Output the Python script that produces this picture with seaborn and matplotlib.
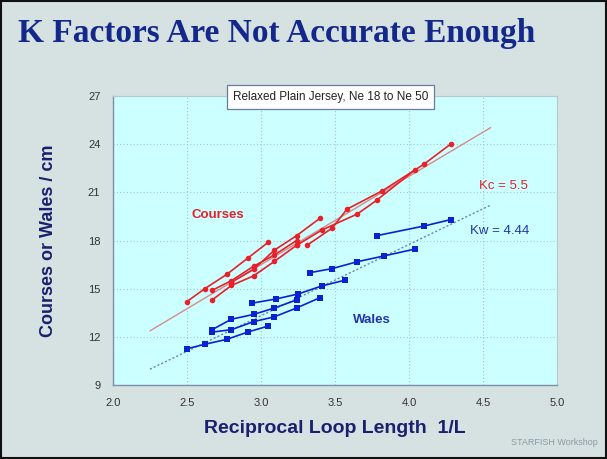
import numpy as np
import pandas as pd
import matplotlib
matplotlib.use("Agg")
import matplotlib.pyplot as plt
import seaborn as sns

# reciprocal loop length (1/L) and courses per cm, one list per yarn
course_x = [
    [2.50, 2.62, 2.77, 2.91, 3.05],
    [2.67, 2.80, 2.95, 3.09, 3.24],
    [2.67, 2.80, 2.95, 3.09, 3.24],
    [2.80, 2.95, 3.09, 3.24, 3.40],
    [3.24, 3.41, 3.65, 3.78, 4.04],
    [3.31, 3.48, 3.58, 3.82, 4.10, 4.28],
]
course_y = [
    [14.2, 15.0, 15.9, 16.9, 17.9],
    [14.3, 15.2, 15.8, 16.7, 17.7],
    [14.9, 15.5, 16.4, 17.1, 18.0],
    [15.4, 16.2, 17.4, 18.3, 19.4],
    [17.7, 18.65, 19.65, 20.5, 22.4],
    [17.7, 18.77, 19.95, 21.1, 22.75, 24.0],
]

# wales per cm
wale_x = [
    [2.50, 2.62, 2.77, 2.91, 3.05],
    [2.67, 2.80, 2.95, 3.09, 3.24, 3.40],
    [2.67, 2.80, 2.95, 3.09, 3.24],
    [2.94, 3.10, 3.25, 3.41, 3.57],
    [3.33, 3.48, 3.65, 3.83, 4.04],
    [3.78, 4.10, 4.28],
]
wale_y = [
    [11.26, 11.54, 11.85, 12.3, 12.68],
    [12.3, 12.45, 12.95, 13.25, 13.8, 14.45],
    [12.45, 13.1, 13.4, 13.8, 14.3],
    [14.1, 14.36, 14.67, 15.17, 15.54],
    [16.0, 16.25, 16.68, 17.04, 17.47],
    [18.3, 18.9, 19.3],
]

kc = 5.5
kw = 4.44
trend_x = [2.25, 4.55]

x_ticks = [2.0, 2.5, 3.0, 3.5, 4.0, 4.5, 5.0]
y_ticks = [9, 12, 15, 18, 21, 24, 27]

red = "#e8202a"
blue = "#0a22d0"
navy = "#1a1f6e"

sns.set_style("white")
plt.rcParams["font.family"] = ["Liberation Sans", "DejaVu Sans"]

fig = plt.figure(figsize=(6.07, 4.59), dpi=100, facecolor="#d6e2e1")
ax = fig.add_axes([0.186, 0.161, 0.732, 0.630])
ax.set_facecolor("#ccffff")

# K factor lines
tx = np.array(trend_x)
ax.plot(tx, kc * tx, color="#d98a8a", lw=1.0, zorder=2)
ax.plot(tx, kw * tx, color="#6f82b0", lw=1.0, ls=(0, (1.5, 1.5)), zorder=2)

for xs, ys in zip(course_x, course_y):
    sns.lineplot(x=xs, y=ys, ax=ax, color=red, marker="o", markersize=4,
                 markeredgewidth=0, lw=1.2, zorder=3)
for xs, ys in zip(wale_x, wale_y):
    sns.lineplot(x=xs, y=ys, ax=ax, color=blue, marker="s", markersize=4.2,
                 markeredgewidth=0, lw=1.2, zorder=3)

ax.set_xlim(2.0, 5.0)
ax.set_ylim(9, 27)
ax.set_xticks(x_ticks)
ax.set_xticklabels([f"{v:.1f}" for v in x_ticks])
ax.set_yticks(y_ticks)
ax.grid(True, color="#a9c4c8", ls=(0, (1, 2)), lw=0.8)
ax.tick_params(axis="both", direction="out", length=5, width=0.8, color="#7f8fa8",
               labelsize=8, labelcolor="#333333", pad=4)
for side in ["left", "bottom"]:
    ax.spines[side].set_color("#7f8fa8")
    ax.spines[side].set_linewidth(1.0)
for side in ["top", "right"]:
    ax.spines[side].set_color("#b8c8cc")
    ax.spines[side].set_linewidth(0.8)

ax.set_xlabel("Reciprocal Loop Length  1/L", fontsize=14, color=navy,
              fontweight="bold", labelpad=9)
ax.set_ylabel("Courses or Wales / cm", fontsize=13, color=navy,
              fontweight="bold", labelpad=22)

ax.text(2.71, 19.6, "Courses", color=red, fontsize=9.5, fontweight="bold", ha="center", va="center")
ax.text(4.47, 21.4, "Kc = 5.5", color=red, fontsize=9.5, ha="left", va="center")
ax.text(4.41, 18.6, "Kw = 4.44", color="#2233aa", fontsize=9.5, ha="left", va="center")
ax.text(3.75, 13.05, "Wales", color="#2233aa", fontsize=9.5, fontweight="bold", ha="center", va="center")

fig.text(0.544, 0.789, "Relaxed Plain Jersey, Ne 18 to Ne 50", fontsize=8.5, color="#222222",
         ha="center", va="center",
         bbox=dict(boxstyle="square,pad=0.5", fc="white", ec="#6a7aa0", lw=0.9))

fig.text(0.03, 0.927, "K Factors Are Not Accurate Enough", fontsize=24, color="#14288c",
         fontweight="bold", family="Liberation Serif", ha="left", va="center")
fig.text(0.985, 0.035, "STARFISH Workshop", fontsize=6.5, color="#8a9aa4", ha="right", va="center")

fig.patches.append(plt.Rectangle((0.002, 0.002), 0.996, 0.996, transform=fig.transFigure,
                                 fill=False, ec="#111111", lw=1.5))

fig.savefig("out.png", dpi=100, facecolor=fig.get_facecolor())
